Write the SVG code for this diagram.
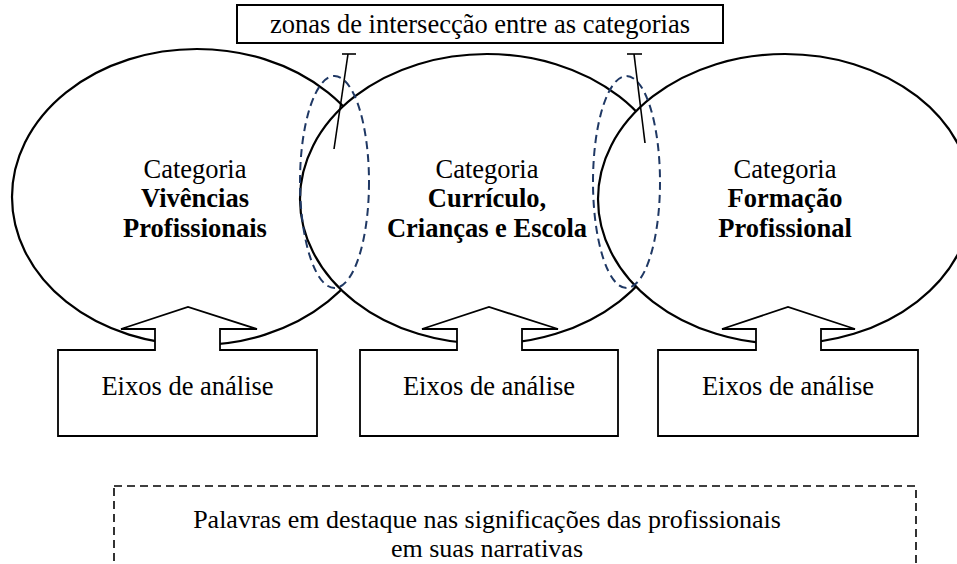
<svg xmlns="http://www.w3.org/2000/svg" width="957" height="564" viewBox="0 0 957 564">
<style>
  .circ { fill: #ffffff; stroke: #000000; stroke-width: 2.2; }
  .arrow { fill: #ffffff; stroke: #000000; stroke-width: 1.8; stroke-linejoin: miter; }
  .zone { fill: none; stroke: #1f3864; stroke-width: 2; stroke-dasharray: 8 5; }
  .lead { fill: none; stroke: #000000; stroke-width: 1.6; }
  .box { fill: #ffffff; stroke: #000000; stroke-width: 2; }
  .dbox { fill: none; stroke: #000000; stroke-width: 1.6; stroke-dasharray: 8 5; }
  text { font-family: "Liberation Serif", "Times New Roman", serif; font-size: 26.5px; fill: #000000; text-anchor: middle; }
  .b { font-weight: bold; }
  .s { font-size: 26px; }
</style>
<rect width="957" height="564" fill="#ffffff"/>
<g id="cat1">
  <ellipse class="circ" cx="197" cy="197" rx="185" ry="148"/>
  <text x="195" y="178">Categoria</text>
  <text class="b" x="195" y="207">Vivências</text>
  <text class="b" x="195" y="237">Profissionais</text>
</g>
<g id="cat2">
  <ellipse class="circ" cx="487" cy="199" rx="187" ry="145"/>
  <text x="487" y="178">Categoria</text>
  <text class="b" x="487" y="207">Currículo,</text>
  <text class="b" x="487" y="237">Crianças e Escola</text>
</g>
<g id="cat3">
  <ellipse class="circ" cx="785" cy="199" rx="187" ry="145"/>
  <text x="785" y="178">Categoria</text>
  <text class="b" x="785" y="207">Formação</text>
  <text class="b" x="785" y="237">Profissional</text>
</g>
<g id="eixos1">
  <path class="arrow" d="M58,350 H155 V329 H121 L188,307 L257,329 H220 V350 H317 V436 H58 Z"/>
  <text x="187.5" y="395">Eixos de análise</text>
</g>
<g id="eixos2">
  <path class="arrow" d="M360,350 H457 V329 H422 L489,307 L558,329 H522 V350 H618 V436 H360 Z"/>
  <text x="489" y="395">Eixos de análise</text>
</g>
<g id="eixos3">
  <path class="arrow" d="M658,350 H756 V329 H722 L788,307 L855,329 H821 V350 H918 V436 H658 Z"/>
  <text x="788" y="395">Eixos de análise</text>
</g>
<g id="zona1">
  <ellipse class="zone" cx="334.5" cy="182" rx="34.5" ry="106"/>
</g>
<g id="zona2">
  <ellipse class="zone" cx="626.5" cy="182" rx="33.5" ry="106"/>
</g>
<g id="connectors">
  <line class="lead" x1="348" y1="54" x2="334" y2="149"/>
  <line class="lead" x1="342" y1="54" x2="356" y2="54"/>
  <line class="lead" x1="634" y1="54" x2="645" y2="143"/>
  <line class="lead" x1="627" y1="54" x2="642" y2="54"/>
</g>
<g id="intersecao">
  <rect class="box" x="237" y="5" width="486" height="38"/>
  <text x="480" y="33">zonas de intersecção entre as categorias</text>
</g>
<g id="palavras">
  <rect class="dbox" x="114" y="486" width="802" height="100"/>
  <text class="s" x="487" y="528">Palavras em destaque nas significações das profissionais</text>
  <text class="s" x="487" y="557">em suas narrativas</text>
</g>
</svg>
